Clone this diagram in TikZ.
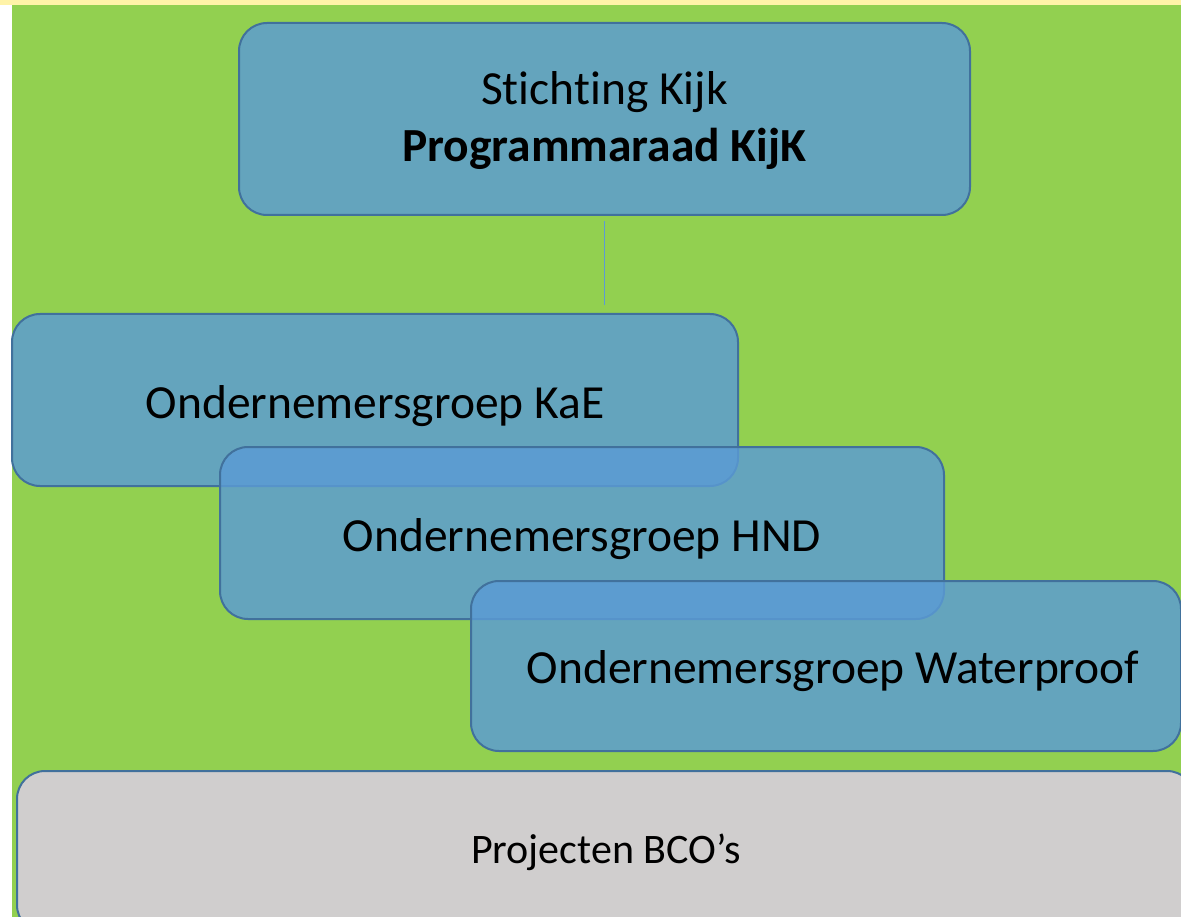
\documentclass[tikz,border=0pt]{standalone}
\usepackage{fontspec}
\setmainfont{Carlito}[Ligatures=NoCommon]
\usepackage{xcolor}
\usepackage{tikz}
\usetikzlibrary{arrows}

\definecolor{vlakgroen}{HTML}{92D050}
\definecolor{randgeel}{HTML}{FFF3A8}
\definecolor{blokblauw}{HTML}{5B9BD5}
\definecolor{randblauw}{HTML}{41719C}
\definecolor{blokgrijs}{HTML}{D0CECE}

\begin{document}
\begin{tikzpicture}[x=1pt, y=-1pt,
    groep/.style = {rectangle,
          draw = randblauw,
          line width = 2pt,
          fill = blokblauw,
          fill opacity = 0.82,
          rounded corners = 28pt,
          inner sep = 0pt},
    tekst/.style = {font=\fontsize{47.5}{57}\selectfont, align=center, inner sep=0pt}
    ]

    \clip (0,0) rectangle (1181,917);
    \fill[white] (0,0) rectangle (1181,917);
    \fill[randgeel] (0,0) rectangle (1181,5);
    \fill[vlakgroen] (12,5) rectangle (1181,917);

    \node[groep,
          minimum width = 731pt,
          minimum height = 192pt
          ] (kijk) at (604.5,119) {};
    \node[tekst, yshift=-2pt] at (kijk.center) {Stichting Kijk\\\textbf{Programmaraad KijK}};

    \node[groep,
          minimum width = 726pt,
          minimum height = 172pt
          ] (kae) at (375,400) {};
    \node[tekst, yshift=-6pt] at (kae.center) {Ondernemersgroep KaE};

    \node[groep,
          minimum width = 724pt,
          minimum height = 172pt
          ] (hnd) at (582,533) {};
    \node[tekst, yshift=-6pt] at (hnd.center) {Ondernemersgroep HND};

    \node[groep,
          minimum width = 710pt,
          minimum height = 170pt
          ] (waterproof) at (826,666) {};
    \node[tekst, yshift=-5pt] at (833,666) {Ondernemersgroep Waterproof};

    \node[rectangle,
          draw = randblauw,
          line width = 2pt,
          fill = blokgrijs,
          rounded corners = 28pt,
          minimum width = 1178pt,
          minimum height = 162pt
          ] (bco) at (606,852) {};
    \node[font=\fontsize{42}{50}\selectfont, inner sep=0pt] at (bco.center) {Projecten BCO’s};

    %lijn naar de groepen
    \draw[blokblauw, line width = 1.3pt, shorten <= 5pt, shorten >= 8pt]
    (kijk.south) -- (kijk.south |- kae.north);

\end{tikzpicture}
\end{document}
